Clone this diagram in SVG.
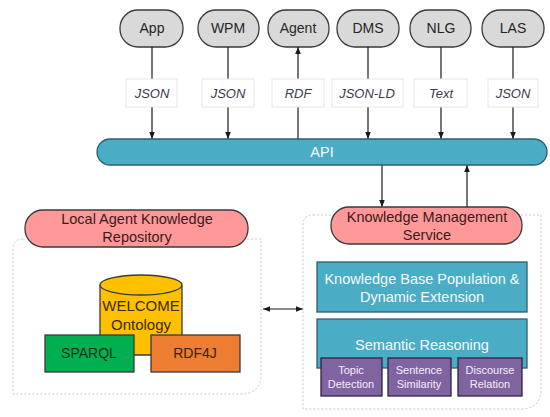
<svg xmlns="http://www.w3.org/2000/svg" width="550" height="417" viewBox="0 0 550 417">
<style>
text{font-family:"Liberation Sans","DejaVu Sans",sans-serif;text-anchor:middle}
.top rect{fill:#d9d9d9;stroke:#3a3a3a;stroke-width:1.3}
.top text{font-size:14px;fill:#262626}
.lbl rect{fill:#fff;stroke:#e6e6e6;stroke-width:1}
.lbl text{font-size:13px;font-style:italic;fill:#3a3a4a}
.conn line{stroke:#1a1a1a;stroke-width:1.2}
.pink rect{fill:#ff9999;stroke:#3a3a3a;stroke-width:1.3}
.pink text{font-size:14.5px;fill:#3a1a1a}
.cont{fill:none;stroke:#c8c8c8;stroke-width:1;stroke-dasharray:2 2}
.blue rect{fill:#4bacc6;stroke:#2f5f6e;stroke-width:1.3}
.blue text{font-size:14.5px;fill:#f4fbfd}
.purp rect{fill:#8064a2;stroke:#2d2440;stroke-width:1.3}
.purp text{font-size:11px;fill:#f2eef8}
</style>
<defs>
<marker id="ah" viewBox="0 0 10 10" refX="10" refY="5" markerWidth="7" markerHeight="7" orient="auto-start-reverse" markerUnits="userSpaceOnUse">
<path d="M0,1 L10,5 L0,9 z" fill="#1a1a1a"/>
</marker>
</defs>

<g id="app" class="top"><rect x="120" y="10" width="63" height="37" rx="18"/><text x="152" y="33">App</text></g>
<g id="wpm" class="top"><rect x="198" y="10" width="61" height="37" rx="18"/><text x="228" y="33">WPM</text></g>
<g id="agent" class="top"><rect x="268" y="10" width="61" height="37" rx="18"/><text x="298" y="33">Agent</text></g>
<g id="dms" class="top"><rect x="337" y="10" width="62" height="37" rx="18"/><text x="368" y="33">DMS</text></g>
<g id="nlg" class="top"><rect x="410" y="10" width="61" height="37" rx="18"/><text x="441" y="33">NLG</text></g>
<g id="las" class="top"><rect x="482" y="10" width="62" height="37" rx="18"/><text x="513" y="33">LAS</text></g>

<g id="connectors" class="conn">
<line x1="152" y1="47" x2="152" y2="79"/><line x1="152" y1="107" x2="152" y2="139" marker-end="url(#ah)"/>
<line x1="228" y1="47" x2="228" y2="79"/><line x1="228" y1="107" x2="228" y2="139" marker-end="url(#ah)"/>
<line x1="298" y1="79" x2="298" y2="47" marker-end="url(#ah)"/><line x1="298" y1="139" x2="298" y2="107"/>
<line x1="368" y1="47" x2="368" y2="79"/><line x1="368" y1="107" x2="368" y2="139" marker-end="url(#ah)"/>
<line x1="441" y1="47" x2="441" y2="79"/><line x1="441" y1="107" x2="441" y2="139" marker-end="url(#ah)"/>
<line x1="513" y1="47" x2="513" y2="79"/><line x1="513" y1="107" x2="513" y2="139" marker-end="url(#ah)"/>
<line x1="382" y1="165" x2="382" y2="207" marker-end="url(#ah)"/>
<line x1="467" y1="207" x2="467" y2="165" marker-end="url(#ah)"/>
<line x1="263" y1="309" x2="303" y2="309" marker-start="url(#ah)" marker-end="url(#ah)"/>
</g>

<g id="lbl-app" class="lbl"><rect x="126" y="79" width="51" height="28"/><text x="152" y="98">JSON</text></g>
<g id="lbl-wpm" class="lbl"><rect x="202" y="79" width="52" height="28"/><text x="228" y="98">JSON</text></g>
<g id="lbl-agent" class="lbl"><rect x="272" y="79" width="52" height="28"/><text x="298" y="98">RDF</text></g>
<g id="lbl-dms" class="lbl"><rect x="332" y="79" width="71" height="28"/><text x="367" y="98">JSON-LD</text></g>
<g id="lbl-nlg" class="lbl"><rect x="414" y="79" width="53" height="28"/><text x="441" y="98">Text</text></g>
<g id="lbl-las" class="lbl"><rect x="488" y="79" width="50" height="28"/><text x="513" y="98">JSON</text></g>

<g id="api" class="blue"><rect x="97" y="139" width="450" height="26" rx="13"/><text x="322" y="157">API</text></g>

<path id="left-container" class="cont" d="M23,239 H261 V374 Q261,394 241,394 H13 V249 Q13,239 23,239 Z"/>
<path id="right-container" class="cont" d="M313,215 H541 V389 Q541,409 521,409 H303 V225 Q303,215 313,215 Z"/>

<g id="lakr" class="pink"><rect x="25" y="210" width="223" height="37" rx="18"/><text x="137" y="224">Local Agent Knowledge</text><text x="137" y="242">Repository</text></g>
<g id="kms" class="pink"><rect x="331" y="207" width="191" height="37" rx="18"/><text x="427" y="222">Knowledge Management</text><text x="427" y="240">Service</text></g>

<g id="ontology">
<path d="M100,285 V355 H182 V285" fill="#ffc000" stroke="#3a3a3a" stroke-width="1.3"/>
<ellipse cx="141" cy="285" rx="41" ry="10" fill="#ffc000" stroke="#3a3a3a" stroke-width="1.3"/>
<text x="141" y="311" style="font-size:15px;fill:#3a2a00">WELCOME</text>
<text x="141" y="330" style="font-size:15px;fill:#3a2a00">Ontology</text>
</g>
<g id="sparql"><rect x="45" y="335" width="89" height="37" fill="#00b050" stroke="#3a3a3a" stroke-width="1.3"/><text x="89" y="358" style="font-size:14px;fill:#10301a">SPARQL</text></g>
<g id="rdf4j"><rect x="151" y="335" width="89" height="37" fill="#ed7d31" stroke="#3a3a3a" stroke-width="1.3"/><text x="195" y="358" style="font-size:14px;fill:#40200a">RDF4J</text></g>

<g id="kbp" class="blue"><rect x="317" y="262" width="210" height="50"/><text x="422" y="284">Knowledge Base Population &amp;</text><text x="422" y="302">Dynamic Extension</text></g>
<g id="sr" class="blue"><rect x="317" y="319" width="210" height="49"/><text x="422" y="350">Semantic Reasoning</text></g>
<g id="topic" class="purp"><rect x="321" y="358" width="61" height="38"/><text x="351" y="374">Topic</text><text x="351" y="388">Detection</text></g>
<g id="sentence" class="purp"><rect x="388" y="358" width="63" height="38"/><text x="419" y="374">Sentence</text><text x="419" y="388">Similarity</text></g>
<g id="discourse" class="purp"><rect x="458" y="358" width="64" height="38"/><text x="490" y="374">Discourse</text><text x="490" y="388">Relation</text></g>
</svg>
